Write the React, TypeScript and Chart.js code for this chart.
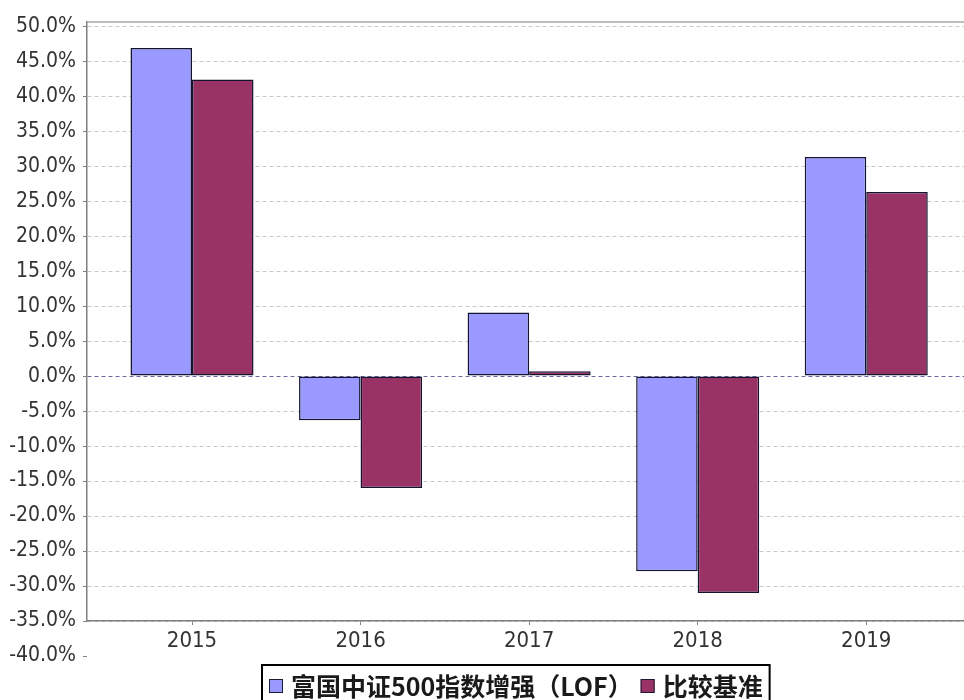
import React, { useEffect, useRef } from 'react';
import { Chart, registerables } from 'chart.js';

Chart.register(...registerables);

// ---- data ----
const years = ['2015', '2016', '2017', '2018', '2019'];
const fundReturns = [46.9, -6.3, 9.1, -27.9, 31.3];
const benchReturns = [42.4, -16.0, 0.7, -31.0, 26.3];
const yTickValues = [-35, -30, -25, -20, -15, -10, -5, 0, 5, 10, 15, 20, 25, 30, 35, 40, 45, 50];
const extraYTick = -40;
const seriesNames = ['富国中证500指数增强（LOF）', '比较基准'];
const seriesColors = ['#9999FF', '#993366'];

const TICK_FAMILY = "'Liberation Sans Narrow', 'DejaVu Sans Condensed', 'Liberation Sans', sans-serif";
const TICK_COLOR = '#333333';
const AXIS_COLOR = '#808080';
const LEGEND_FONT = "700 25px 'Noto Sans CJK SC', sans-serif";

const fmtPct = (v: number) => v.toFixed(1) + '%';

const decorPlugin = {
  id: 'decor',
  afterDraw(chart: any) {
    const { ctx, chartArea, scales } = chart;
    const y = scales.y;
    ctx.save();
    // top frame line
    ctx.strokeStyle = '#a8a8a8';
    ctx.lineWidth = 1.5;
    ctx.beginPath();
    ctx.moveTo(chartArea.left, chartArea.top);
    ctx.lineTo(chartArea.right, chartArea.top);
    ctx.stroke();

    // extra tick label below axis
    const py = y.getPixelForValue(extraYTick);
    ctx.font = `21px ${TICK_FAMILY}`;
    ctx.fillStyle = TICK_COLOR;
    ctx.textAlign = 'right';
    ctx.textBaseline = 'middle';
    ctx.fillText(fmtPct(extraYTick), chartArea.left - 11, py);
    ctx.strokeStyle = AXIS_COLOR;
    ctx.lineWidth = 1;
    ctx.beginPath();
    ctx.moveTo(chartArea.left - 4, py + 0.5);
    ctx.lineTo(chartArea.left, py + 0.5);
    ctx.stroke();

    // legend
    ctx.font = LEGEND_FONT;
    const w1 = ctx.measureText(seriesNames[0]).width;
    const w2 = ctx.measureText(seriesNames[1]).width;
    const pad = 7, sq = 14, gapT = 8, gapI = 8;
    const total = pad + sq + gapT + w1 + gapI + sq + gapT + w2 + pad;
    const cx = 516;
    const left = Math.round(cx - total / 2);
    const top = 665;
    const h = 42;
    ctx.strokeStyle = '#000000';
    ctx.lineWidth = 2;
    ctx.strokeRect(left, top, total, h);
    const midY = 686;
    let x = left + pad;
    const ws = [w1, w2];
    for (let i = 0; i < 2; i++) {
      ctx.fillStyle = seriesColors[i];
      ctx.fillRect(x, midY - sq / 2, sq, sq);
      ctx.strokeStyle = '#1a1a33';
      ctx.lineWidth = 1;
      ctx.strokeRect(x + 0.5, midY - sq / 2 + 0.5, sq - 1, sq - 1);
      x += sq + gapT;
      ctx.fillStyle = '#1a1a1a';
      ctx.textAlign = 'left';
      ctx.textBaseline = 'middle';
      ctx.fillText(seriesNames[i], x, midY);
      x += ws[i] + gapI;
    }
    ctx.restore();
  },
};

export default function App() {
  const ref = useRef<HTMLCanvasElement | null>(null);

  useEffect(() => {
    if (!ref.current) return;
    const chart = new Chart(ref.current, {
      type: 'bar',
      data: {
        datasets: [fundReturns, benchReturns].map((vals, k) => ({
          label: seriesNames[k],
          data: vals.map((v, i) => ({ x: i, y: v })),
          backgroundColor: seriesColors[k],
          borderColor: '#141430',
          borderWidth: 1.5,
          borderSkipped: false,
          categoryPercentage: 0.73,
          barPercentage: 1.0,
        })),
      },
      options: {
        animation: false,
        responsive: false,
        maintainAspectRatio: false,
        layout: { padding: { top: 22, right: 0, bottom: 0, left: 0 } },
        plugins: {
          legend: { display: false },
          tooltip: { enabled: false },
        },
        scales: {
          x: {
            type: 'linear',
            offset: false,
            min: -0.623,
            max: 4.58,
            afterBuildTicks: (s: any) => {
              s.ticks = years.map((_, i) => ({ value: i }));
            },
            afterFit: (s: any) => {
              s.height = 79;
            },
            ticks: {
              callback: (v: any) => years[v as number] ?? '',
              font: { family: TICK_FAMILY, size: 22 },
              color: TICK_COLOR,
              padding: 3,
              autoSkip: false,
              maxRotation: 0,
            },
            grid: {
              offset: false,
              drawOnChartArea: false,
              drawTicks: true,
              tickLength: 4,
              tickColor: AXIS_COLOR,
            },
            border: { color: AXIS_COLOR, width: 1.5 },
          },
          y: {
            min: -35,
            max: 50.6,
            afterBuildTicks: (s: any) => {
              s.ticks = yTickValues.map((v) => ({ value: v }));
            },
            afterFit: (s: any) => {
              s.width = 87;
            },
            ticks: {
              callback: (v: any) => fmtPct(Number(v)),
              font: { family: TICK_FAMILY, size: 21 },
              color: TICK_COLOR,
              padding: 7,
            },
            grid: {
              color: (c: any) => (c.tick && c.tick.value === 0 ? '#6a6aa0' : '#c8c8c8'),
              lineWidth: 1,
              drawTicks: true,
              tickLength: 4,
              tickColor: AXIS_COLOR,
            },
            border: { color: AXIS_COLOR, width: 1.5, dash: [4, 3] },
          },
        },
      },
      plugins: [decorPlugin],
    } as any);

    let alive = true;
    if ((document as any).fonts && (document as any).fonts.load) {
      Promise.all([
        (document as any).fonts.load(LEGEND_FONT, '富国中证比较基准'),
        (document as any).fonts.load(`21px ${TICK_FAMILY}`, '0123456789.%'),
      ]).then(() => {
        if (alive) chart.update();
      }).catch(() => {});
    }
    return () => {
      alive = false;
      chart.destroy();
    };
  }, []);

  return (
    <div style={{ position: 'absolute', left: 0, top: 0, width: 964, height: 700 }}>
      <canvas ref={ref} width={964} height={700} style={{ display: 'block' }} />
    </div>
  );
}
